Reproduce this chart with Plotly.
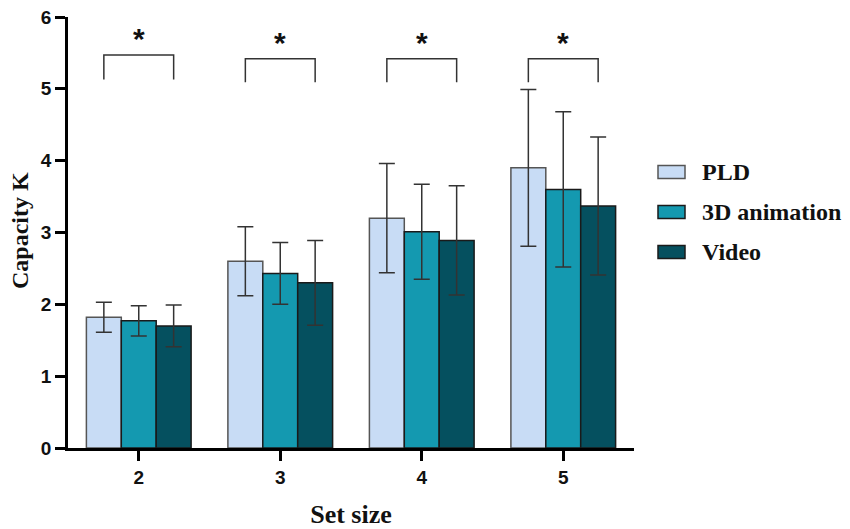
import plotly.graph_objects as go

set_sizes = [2, 3, 4, 5]
series_names = ["PLD", "3D animation", "Video"]
pld_mean = [1.82, 2.60, 3.20, 3.90]
pld_sd = [0.21, 0.48, 0.76, 1.09]
anim_mean = [1.77, 2.43, 3.01, 3.60]
anim_sd = [0.21, 0.43, 0.66, 1.08]
video_mean = [1.70, 2.30, 2.89, 3.37]
video_sd = [0.29, 0.59, 0.76, 0.96]
sig_labels = ["*", "*", "*", "*"]
bracket_top = [5.47, 5.42, 5.42, 5.42]
bracket_leg = [5.13, 5.09, 5.09, 5.09]

colors = ["#C8DCF5", "#1499B0", "#05505F"]
outlines = ["#555555", "#1a1a1a", "#1a1a1a"]
means = [pld_mean, anim_mean, video_mean]
sds = [pld_sd, anim_sd, video_sd]

bargap = 0.26
bar_w = (1 - bargap) / 3

# plot area in page pixels
PX0, PX1, PY0, PY1 = 68, 634, 17, 448

fig = go.Figure()
for name, m, s, c, oc in zip(series_names, means, sds, colors, outlines):
    fig.add_trace(go.Bar(
        x=set_sizes, y=m, name=name,
        marker=dict(color=c, line=dict(color=oc, width=1.5)),
        error_y=dict(type="data", array=s, visible=True, color="#333333",
                     thickness=1.5, width=8),
        showlegend=False,
    ))

shapes = []
annotations = []
for xs, lab, top, leg in zip(set_sizes, sig_labels, bracket_top, bracket_leg):
    x0 = xs - bar_w
    x1 = xs + bar_w
    shapes.append(dict(type="path", xref="x", yref="y",
                       path=f"M {x0},{leg} L {x0},{top} L {x1},{top} L {x1},{leg}",
                       line=dict(color="#333333", width=1.5)))
    annotations.append(dict(x=xs, y=top - 0.03, xref="x", yref="y", text=lab,
                            showarrow=False, yanchor="bottom",
                            font=dict(family="Liberation Sans", size=30, color="#111111",
                                      weight="bold")))

# custom legend (paper coords relative to plot area)
PW, PH = PX1 - PX0, PY1 - PY0
leg_y = [172, 212, 252]
for name, c, oc, yy in zip(series_names, colors, outlines, leg_y):
    shapes.append(dict(type="rect", xref="paper", yref="paper",
                       x0=(658 - PX0) / PW, x1=(685 - PX0) / PW,
                       y0=(PY1 - (yy + 6.5)) / PH, y1=(PY1 - (yy - 6.5)) / PH,
                       fillcolor=c, line=dict(color=oc, width=1.5)))
    annotations.append(dict(x=(700 - PX0) / PW, y=(PY1 - yy) / PH, xref="paper", yref="paper",
                            text=f"<b>{name}</b>", showarrow=False, xanchor="left", yanchor="middle",
                            font=dict(family="Liberation Serif", size=24, color="#111111")))

# y-axis title
annotations.append(dict(x=(20 - PX0) / PW, y=(PY1 - 231) / PH, xref="paper", yref="paper",
                        text="<b>Capacity K</b>", textangle=-90, showarrow=False,
                        xanchor="center", yanchor="middle",
                        font=dict(family="Liberation Serif", size=24, color="#111111")))

fig.update_layout(
    width=842, height=521,
    margin=dict(l=PX0 - 8, r=842 - (PX1 - 8), t=PY0 - 8, b=521 - (PY1 - 8), autoexpand=False),
    plot_bgcolor="white", paper_bgcolor="white",
    barmode="group", bargap=bargap, bargroupgap=0,
    shapes=shapes, annotations=annotations,
    xaxis=dict(range=[1.5, 5.5], tickvals=set_sizes, ticktext=[str(v) for v in set_sizes],
               automargin=False,
               showline=True, linecolor="black", linewidth=2.5,
               ticks="outside", ticklen=10, tickwidth=2.5, tickcolor="black",
               showgrid=False, zeroline=False,
               tickfont=dict(family="Liberation Sans", size=19, color="#111111", weight="bold"),
               title=dict(text="<b>Set size</b>", standoff=24,
                          font=dict(family="Liberation Serif", size=26, color="#111111"))),
    yaxis=dict(range=[0, 6], tickvals=[0, 1, 2, 3, 4, 5, 6],
               automargin=False, ticklabeloverflow="allow",
               showline=True, linecolor="black", linewidth=2.5,
               ticks="outside", ticklen=10, tickwidth=2.5, tickcolor="black",
               showgrid=False, zeroline=False,
               tickfont=dict(family="Liberation Sans", size=19, color="#111111", weight="bold")),
)

fig.write_html("out.html")
